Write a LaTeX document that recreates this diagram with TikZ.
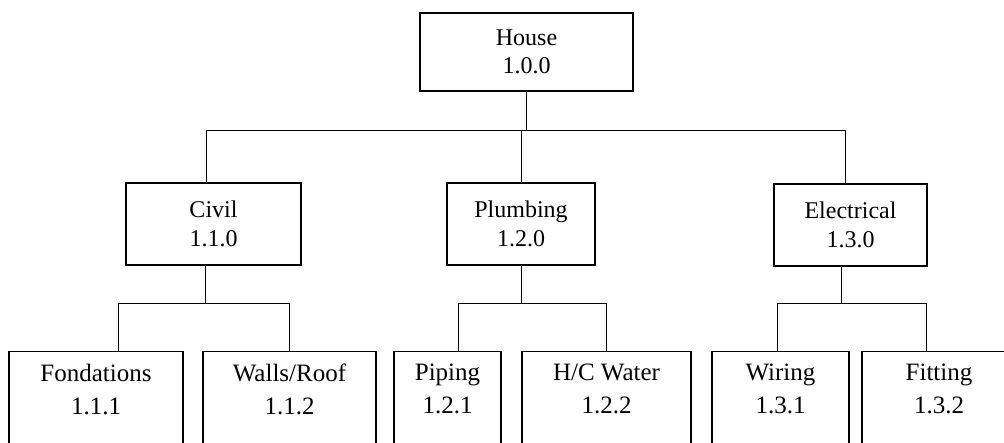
\documentclass[tikz,border=0pt]{standalone}
\usepackage{fontspec}
\setmainfont{Liberation Serif}
\usetikzlibrary{calc}
\tikzset{
    wbs/.style = {draw, line width=1.3pt, align=center, inner sep=0pt},
    topbox/.style = {wbs, minimum width=213pt, minimum height=78pt, font=\fontsize{24}{28}\selectfont},
    midbox/.style = {wbs, minimum height=82pt, font=\fontsize{24}{29}\selectfont},
    leafbox/.style = {wbs, anchor=north, inner ysep=12pt, text depth=90pt, font=\fontsize{25}{33}\selectfont},
    link/.style = {line width=1pt}
}

\begin{document}
\begin{tikzpicture}[x=1pt, y=-1pt]
        % page frame, bottom row runs off the page
        \useasboundingbox (0,0) rectangle (1004,442);
        \clip (0,0) rectangle (1004,442);

        % bus levels
        \coordinate (topbus) at (0,130);
        \coordinate (lowbus) at (0,303);

        % level 0
        \node[topbox] (house) at (526.5,52) {House\\1.0.0};

        % level 1
        \node[midbox, minimum width=175pt] (civil) at (213.5,224) {Civil\\1.1.0};
        \node[midbox, minimum width=148pt] (plumb) at (521,224) {Plumbing\\1.2.0};
        \node[midbox, minimum width=153pt] (elec) at (850.5,225) {Electrical\\1.3.0};

        % level 2
        \node[leafbox, minimum width=174pt] (fond) at (96,351) {Fondations\\1.1.1};
        \node[leafbox, minimum width=173pt] (walls) at (289.5,351) {Walls/Roof\\1.1.2};
        \node[leafbox, minimum width=107pt] (piping) at (447.5,351) {Piping\\1.2.1};
        \node[leafbox, minimum width=169pt] (hcw) at (606.5,351) {H/C Water\\1.2.2};
        \node[leafbox, minimum width=137pt] (wiring) at (780.5,351) {Wiring\\1.3.1};
        \node[leafbox, minimum width=154pt] (fitting) at (939,351) {Fitting\\1.3.2};

        % house to level 1
        \draw[link] (house.south) -- (house.south |- topbus);
        \draw[link] ([xshift=-7pt]civil.north) |- ([xshift=-5pt]elec.north |- topbus) -- ([xshift=-5pt]elec.north);
        \draw[link] (plumb.north) -- (plumb.north |- topbus);

        % civil to level 2
        \draw[link] ([xshift=-8pt]civil.south) -- ([xshift=-8pt]civil.south |- lowbus);
        \draw[link] ([xshift=22pt]fond.north) |- (walls.north |- lowbus) -- (walls.north);

        % plumbing to level 2
        \draw[link] (plumb.south) -- (plumb.south |- lowbus);
        \draw[link] ([xshift=11pt]piping.north) |- (hcw.north |- lowbus) -- (hcw.north);

        % electrical to level 2
        \draw[link] ([xshift=-9pt]elec.south) -- ([xshift=-9pt]elec.south |- lowbus);
        \draw[link] ([xshift=-3pt]wiring.north) |- ([xshift=-13pt]fitting.north |- lowbus) -- ([xshift=-13pt]fitting.north);

    \end{tikzpicture}
\end{document}
